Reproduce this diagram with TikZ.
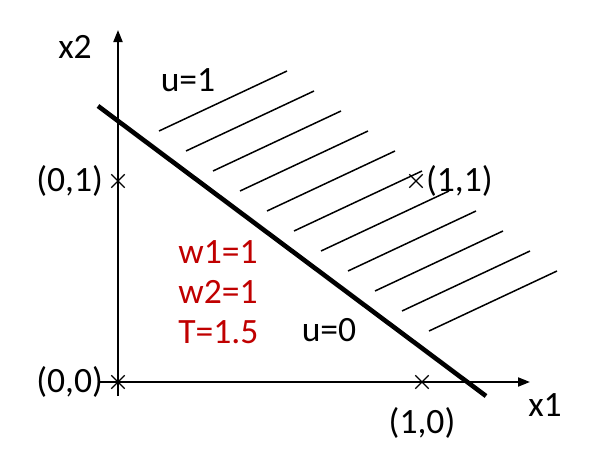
\documentclass[tikz,border=0pt]{standalone}
\usepackage{fontspec}
\setmainfont{Carlito}
\usepackage{tikz}
\usetikzlibrary{arrows.meta,shapes.misc,positioning}
\definecolor{weightred}{RGB}{192,0,0}

\begin{document}
\begin{tikzpicture}[
    x=0.5pt, y=-0.5pt,
    axis/.style={line width=1pt, -{Triangle[length=6pt,width=4.5pt]}},
    pt/.style={cross out, draw, minimum size=6pt, inner sep=0pt, line width=0.7pt},
    lbl/.style={font=\fontsize{17.8}{20}\selectfont, inner sep=0pt},
    weight/.style={lbl, text=weightred},
    hatch/.style={line width=0.75pt},
    boundary/.style={line width=2.3pt}
]
    \useasboundingbox (0,0) rectangle (590,466);

    % axes
    \coordinate (xstart) at (98,382);
    \coordinate (xend) at (530,382);
    \coordinate (ystart) at (118,396);
    \coordinate (yend) at (118,30);
    \draw[axis] (xstart) -- (xend);
    \draw[axis] (ystart) -- (yend);
    \node[lbl] (xone) at (545,405) {x1};
    \node[lbl] (xtwo) at (75,47) {x2};

    % hatched region u=1
    \foreach \i in {0,...,10}
        \draw[hatch] (159+27*\i,131+20*\i) -- ++(128,-60);

    % decision line
    \coordinate (lstart) at (98,106);
    \coordinate (lend) at (486,396);
    \draw[boundary] (lstart) -- (lend);

    % input points
    \node[pt] (p00) at (118,382) {};
    \node[pt] (p01) at (118,181) {};
    \node[pt] (p10) at (422,382) {};
    \node[pt] (p11) at (416,181) {};
    \node[lbl, left=4pt of p00] (l00) {(0,0)};
    \node[lbl, left=4pt of p01] (l01) {(0,1)};
    \node[lbl, below=9pt of p10] (l10) {(1,0)};
    \node[lbl, right=1.5pt of p11] (l11) {(1,1)};

    % outputs and weights
    \node[lbl] (uone) at (188,80) {u=1};
    \node[lbl] (uzero) at (329,330) {u=0};
    \node[weight] (wone) at (218,252) {w1=1};
    \node[weight, below=8pt of wone.south west, anchor=north west] (wtwo) {w2=1};
    \node[weight, below=8pt of wtwo.south west, anchor=north west] (thr) {T=1.5};
\end{tikzpicture}
\end{document}
